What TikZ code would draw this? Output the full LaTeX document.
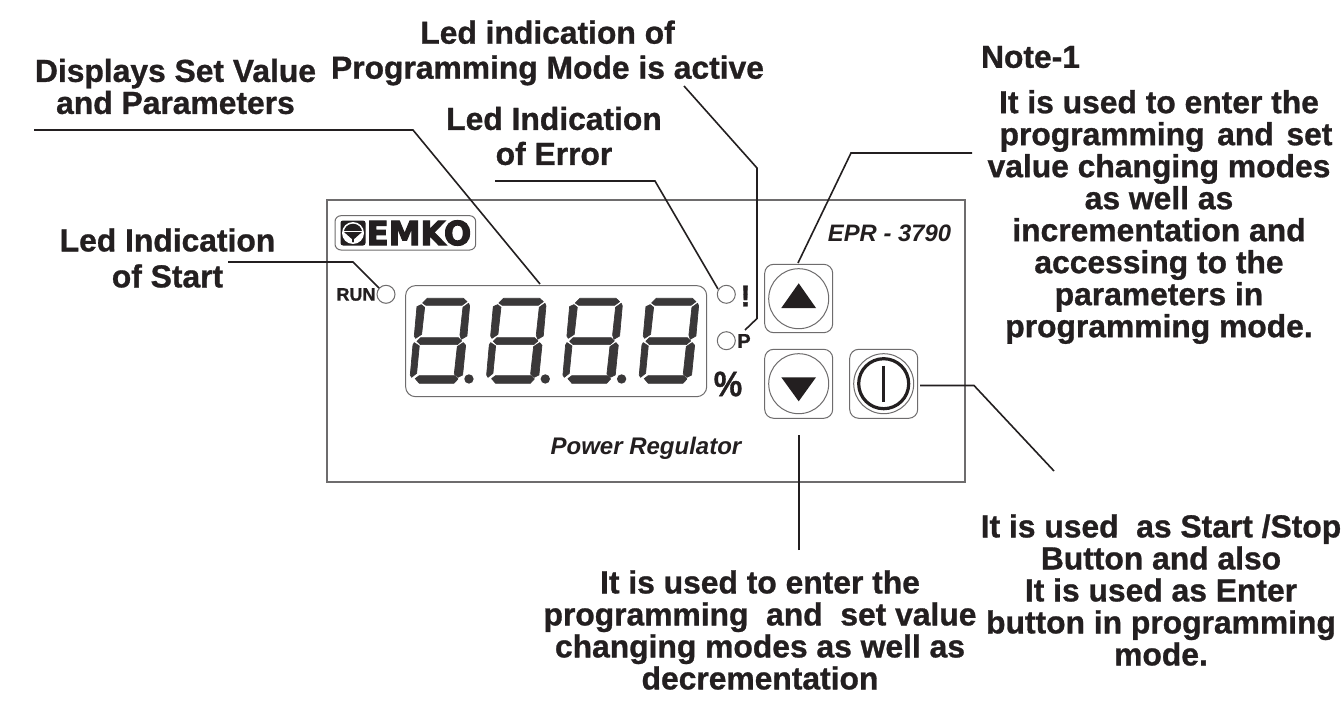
\documentclass[tikz,border=0pt]{standalone}
\usepackage{fontspec}
\setmainfont{Liberation Sans}
\newfontfamily\logofont[FakeBold=3.5]{DejaVu Sans Bold}
\newfontfamily\lbl[FakeBold=0.9]{Liberation Sans Bold}
\definecolor{ink}{HTML}{231F20}
\definecolor{seg}{HTML}{3A3839}
\definecolor{edge}{HTML}{6E6C6D}
\tikzset{
  x=1pt,y=-1pt,
  leader/.style={draw=ink,line width=1.6pt,line join=miter},
  panel/.style={draw=edge,line width=1.3pt},
  thin edge/.style={draw=edge,line width=1pt},
  lbl/.style={inner sep=0pt,align=center,text=ink,font=\fontsize{31.8}{#1}\selectfont\lbl},
  lbl/.default=32,
  led/.style={circle,draw=edge,line width=1pt,minimum size=18pt,inner sep=0pt},
  keycap/.style={thin edge,rounded corners=9pt},
  keyring/.style={circle,draw=edge,line width=1pt,minimum size=60pt,inner sep=0pt},
  segm/.style={fill=seg,draw=seg,line width=0.7pt,line join=round},
}
\begin{document}
\begin{tikzpicture}
\useasboundingbox (0,0) rectangle (1342,706);
\fill[white] (0,0) rectangle (1342,706);
% panel
\draw[panel] (327,200) rectangle (965,482);
\draw[thin edge,rounded corners=10pt] (405.6,285.6) rectangle (706.7,396.7);
% logo
\draw[thin edge,rounded corners=6pt] (335,215.7) rectangle (475.7,250);
\fill[ink,rounded corners=2.5pt] (340.5,220.5) rectangle (365.5,245.5);
\fill[white] (353,233) circle (11pt);
\begin{scope}
\clip (353,233) circle (9.3pt);
\fill[ink] (340,222) rectangle (366,230.5);
\fill[ink] (344,232) -- (362,232) -- (353,240) -- cycle;
\fill[ink] (352,236) rectangle (354,245);
\end{scope}
\node[inner sep=0pt,xscale=0.97,text=ink,font=\fontsize{33}{33}\selectfont\logofont] (logo) at (419,233) {EMKO};
% digits
\foreach \d in {0,1,2,3}{
\begin{scope}[x=0.3333pt,y=-0.3333pt,shift={(960+\d*229,600)}]
\path[segm] (308,309)--(322,295)--(430,295)--(441,305)--(426,316)--(318,316)--cycle;
\path[segm] (304,314)--(314,322)--(305,403)--(287,415)--(283,408)--(291,320)--cycle;
\path[segm] (446,310)--(449,318)--(441,408)--(424,418)--(420,405)--(429,322)--cycle;
\path[segm] (302,413)--(415,413)--(425,423)--(412,434)--(302,434)--(291,424)--cycle;
\path[segm] (283,428)--(298,438)--(290,520)--(275,532)--(271,525)--(279,435)--cycle;
\path[segm] (430,428)--(437,436)--(428,525)--(414,532)--(403,522)--(412,440)--cycle;
\path[segm] (286,536)--(298,527)--(405,527)--(414,537)--(402,550)--(298,550)--cycle;
\end{scope}}
\foreach \d in {0,1,2}{
\begin{scope}[x=0.3333pt,y=-0.3333pt,shift={(960+\d*229,600)}]
\fill[seg] (447,537) circle (14);
\end{scope}}
% leds
\node[led] (ledrun) at (386,294.3) {};
\node[led] (lederr) at (726.3,294.3) {};
\node[led] (ledprog) at (726.3,340.7) {};
\node[inner sep=0pt,text=ink,font=\fontsize{18}{18}\selectfont\lbl] (runlbl) at (356,294.5) {RUN};
\node[inner sep=0pt,text=ink,font=\fontsize{30}{30}\selectfont\lbl] (exclbl) at (745.5,296) {!};
\node[inner sep=0pt,text=ink,font=\fontsize{20}{20}\selectfont\lbl] (plbl) at (744,341) {P};
\node[inner sep=0pt,yscale=1.1,text=ink,font=\fontsize{32}{32}\selectfont\lbl] (pct) at (728,384) {\%};
\node[inner sep=0pt,text=ink,font=\fontsize{23.8}{24}\selectfont\bfseries\itshape] (model) at (889.5,233) {EPR - 3790};
\node[inner sep=0pt,text=ink,font=\fontsize{24}{24}\selectfont\bfseries\itshape] (name) at (646,448.5) {Power Regulator};
% keys
\draw[keycap] (764.7,264.3) rectangle (832.7,332.7);
\node[keyring] (upring) at (798.7,298.7) {};
\fill[ink] (798.7,283.3)--(816,308)--(781.3,308)--cycle;
\draw[keycap] (764.7,349.3) rectangle (832.7,418.3);
\node[keyring] (downring) at (798.7,383.7) {};
\fill[ink] (781.3,377.3)--(816,377.3)--(798.7,401.3)--cycle;
\draw[keycap] (849.7,349.3) rectangle (917.7,418.3);
\node[keyring] (powerring) at (883.7,383.7) {};
\draw[ink,line width=3.2pt] (883.7,383.7) circle (25pt);
\draw[ink,line width=3.2pt] (883.7,365.7) -- (883.7,401.7);
% text
\node[lbl] (t1) at (175.5,86.5) {Displays Set Value\\and Parameters};
\node[lbl=35] (t2) at (547.5,53) {Led indication of\\Programming Mode is active};
\node[lbl=35] (t3) at (554,136) {Led Indication\\of Error};
\node[lbl=36] (t4) at (167.5,258) {Led Indication\\of Start};
\node[lbl] (t5) at (1030.5,57) {Note-1};
\node[lbl] (t6) at (1159,217) {It is used to enter the\\\hspace*{14pt}programming\hspace{12.7pt}and\hspace{12.7pt}set\\value changing modes\\as well as\\incrementation and\\accessing to the\\parameters in\\programming mode.};
\node[lbl] (t7) at (760,630) {It is used to enter the\\programming\ \ and\ \ set value\\changing modes as well as\\decrementation};
\node[lbl] (t8) at (1161,590) {It is used\ \ as Start /Stop\\Button and also\\It is used as Enter\\button in programming\\mode.};
% connector ends
\coordinate (a1) at (34,130); \coordinate (a2) at (413,130); \coordinate (a3) at (540,284);
\coordinate (b1) at (684,86); \coordinate (b2) at (757,168); \coordinate (b3) at (757,318.5); \coordinate (b4) at (745,330);
\coordinate (c1) at (495,181); \coordinate (c2) at (655,181); \coordinate (c3) at (718,289);
\coordinate (d1) at (228,262); \coordinate (d2) at (353,262); \coordinate (d3) at (379,288);
\coordinate (e1) at (972,153); \coordinate (e2) at (851,153); \coordinate (e3) at (798,263);
\coordinate (f1) at (799,550); \coordinate (f2) at (799,435);
\coordinate (g1) at (1054,471); \coordinate (g2) at (974,385.5); \coordinate (g3) at (920,385.5);
\draw[leader] (a1)--(a2)--(a3);
\draw[leader] (b1)--(b2)--(b3)--(b4);
\draw[leader] (c1)--(c2)--(c3);
\draw[leader] (d1)--(d2)--(d3);
\draw[leader] (e1)--(e2)--(e3);
\draw[leader] (f1)--(f2);
\draw[leader] (g1)--(g2)--(g3);
\end{tikzpicture}
\end{document}
